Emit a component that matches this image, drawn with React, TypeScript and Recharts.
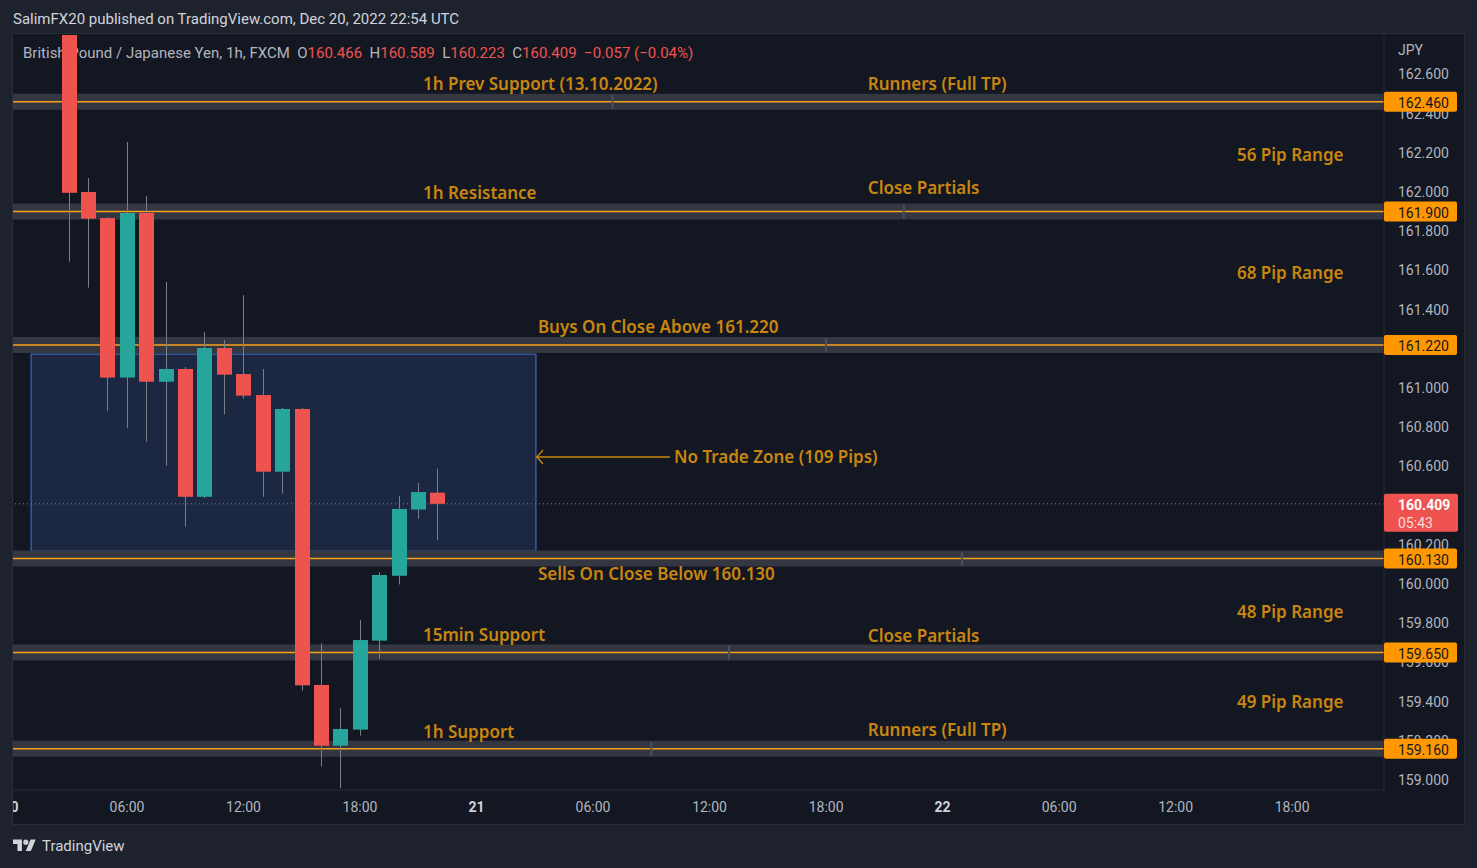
import {
  Bar,
  ComposedChart,
  ReferenceArea,
  ReferenceDot,
  ReferenceLine,
  XAxis,
  YAxis,
} from "recharts";

// GBPJPY 1h, hours counted from Dec 20 00:00
const HOURS = [3, 4, 5, 6, 7, 8, 9, 10, 11, 12, 13, 14, 15, 16, 17, 18, 19, 20, 21, 22];
const OPEN = [
  162.95, 162.0, 161.867, 161.053, 161.893, 161.032, 161.097, 160.445, 161.204, 161.071,
  160.964, 160.573, 160.893, 159.485, 159.175, 159.257, 159.711, 160.042, 160.38, 160.466,
];
const HIGH = [
  163.0, 162.071, 161.87, 162.255, 161.98, 161.541, 161.107, 161.286, 161.245, 161.474,
  161.097, 160.898, 160.898, 159.697, 159.367, 159.816, 160.06, 160.449, 160.515, 160.589,
];
const LOW = [
  161.644, 161.512, 160.884, 160.797, 160.726, 160.604, 160.292, 160.439, 160.866, 160.945,
  160.445, 160.461, 159.456, 159.068, 158.958, 159.226, 159.619, 159.998, 160.333, 160.223,
];
const CLOSE = [
  161.996, 161.864, 161.053, 161.893, 161.032, 161.097, 160.445, 161.204, 161.068, 160.961,
  160.573, 160.893, 159.483, 159.175, 159.26, 159.714, 160.046, 160.383, 160.469, 160.409,
];

const LAST_PRICE = 160.409;
const COUNTDOWN = "05:43";

// horizontal levels and the hour of their midpoint handle
const LEVELS = [162.46, 161.9, 161.22, 160.13, 159.65, 159.16];
const LEVEL_HANDLES = [31, 46, 42, 49, 37, 33];

// no trade zone box
const ZONE_HOURS = [1.06, 27.06];
const ZONE_PRICES = [160.168, 161.173];
const ARROW_HOURS = [27.06, 33.96];
const ARROW_PRICE = 160.648;

const NOTE_TEXT = [
  "1h Prev Support (13.10.2022)",
  "Runners (Full TP)",
  "56 Pip Range",
  "1h Resistance",
  "Close Partials",
  "68 Pip Range",
  "Buys On Close Above 161.220",
  "No Trade Zone (109 Pips)",
  "Sells On Close Below 160.130",
  "48 Pip Range",
  "15min Support",
  "Close Partials",
  "49 Pip Range",
  "1h Support",
  "Runners (Full TP)",
];
const NOTE_HOUR = [21.24, 44.15, 63.16, 21.24, 44.15, 63.16, 27.16, 34.17, 27.16, 63.16, 21.24, 44.15, 63.16, 21.24, 44.15];
const NOTE_PRICE = [
  162.556, 162.556, 162.189, 161.995, 162.025, 161.587, 161.316, 160.648, 160.056, 159.862,
  159.74, 159.735, 159.403, 159.245, 159.26,
];

const X_TICKS = [0, 6, 12, 18, 24, 30, 36, 42, 48, 54, 60, 66];
const X_LABELS = ["20", "06:00", "12:00", "18:00", "21", "06:00", "12:00", "18:00", "22", "06:00", "12:00", "18:00"];
const Y_TICKS = [
  159.0, 159.2, 159.4, 159.6, 159.8, 160.0, 160.2, 160.4, 160.6, 160.8, 161.0, 161.2, 161.4,
  161.6, 161.8, 162.0, 162.2, 162.4, 162.6,
];

const X_DOMAIN = [0.13, 70.73];
const Y_DOMAIN = [158.949, 162.801];

const RED = "#ef5350";
const GREEN = "#26a69a";
const ORANGE = "#ff9800";
const NOTE = "#c9860f";
const AXIS_TEXT = "#b2b5be";
const FONT = "Roboto, sans-serif";

const candles = HOURS.map((h, i) => ({
  h,
  open: OPEN[i],
  high: HIGH[i],
  low: LOW[i],
  close: CLOSE[i],
  range: [LOW[i], HIGH[i]],
}));

function Candle(props: any) {
  const { x, y, width, height, payload } = props;
  if (x == null || !payload) return null;
  const top = Math.min(y, y + height);
  const h = Math.abs(height);
  const { open, close, high, low } = payload;
  const k = h / (high - low);
  const yOf = (v: number) => top + (high - v) * k;
  const bodyTop = yOf(Math.max(open, close));
  const bodyH = Math.max(1, yOf(Math.min(open, close)) - bodyTop);
  const cx = Math.round(x + width / 2) + 0.5;
  return (
    <g>
      <line x1={cx} x2={cx} y1={top} y2={top + h} stroke="#7c7f89" strokeWidth={1} />
      <rect x={cx - 7.5} y={bodyTop} width={15} height={bodyH} fill={close >= open ? GREEN : RED} />
    </g>
  );
}

function TimeTick({ x, y, payload }: any) {
  const label = X_LABELS[X_TICKS.indexOf(payload.value)];
  const day = !label.includes(":");
  return (
    <text
      x={x}
      y={y + 9}
      textAnchor="middle"
      dominantBaseline="central"
      fill={day ? "#d1d4dc" : AXIS_TEXT}
      fontSize={14}
      fontWeight={day ? 700 : 400}
      fontFamily={FONT}
    >
      {label}
    </text>
  );
}

function PriceTag({ viewBox, price }: any) {
  if (!viewBox) return null;
  const x = viewBox.x + viewBox.width;
  return (
    <g>
      <rect x={x} y={viewBox.y - 10} width={73} height={20} rx={2} fill={ORANGE} />
      <text x={x + 14} y={viewBox.y + 1} dominantBaseline="central" fill="#131722" fontSize={14} fontFamily={FONT}>
        {price.toFixed(3)}
      </text>
    </g>
  );
}

function LastTag({ viewBox }: any) {
  if (!viewBox) return null;
  const x = viewBox.x + viewBox.width;
  return (
    <g>
      <rect x={x} y={viewBox.y - 10} width={74} height={38} rx={2} fill={RED} />
      <text x={x + 14} y={viewBox.y + 1} dominantBaseline="central" fill="#ffffff" fontSize={14} fontWeight={700} fontFamily={FONT}>
        {LAST_PRICE.toFixed(3)}
      </text>
      <text x={x + 14} y={viewBox.y + 19} dominantBaseline="central" fill="#fbdcdb" fontSize={14} fontFamily={FONT}>
        {COUNTDOWN}
      </text>
    </g>
  );
}

function NoteText({ cx, cy, text }: any) {
  return (
    <text x={cx} y={cy} dominantBaseline="central" fill={NOTE} fontSize={17} fontWeight={600} fontFamily="'Noto Sans', sans-serif">
      {text}
    </text>
  );
}

function ArrowHead({ cx, cy }: any) {
  return <path d={`M${cx + 7} ${cy - 7} L${cx + 1} ${cy} L${cx + 7} ${cy + 7}`} stroke={NOTE} strokeWidth={1.3} fill="none" />;
}

function TvLogo() {
  return (
    <svg width={23} height={18} viewBox="0 0 36 28" style={{ display: "block" }}>
      <path d="M14 22H7V11H0V4h14v18zM28 22h-8l7.5-18h8L28 22z" fill="#d1d4dc" />
      <circle cx={20} cy={8} r={4} fill="#d1d4dc" />
    </svg>
  );
}

export default function App() {
  return (
    <div
      style={{
        position: "absolute",
        left: 0,
        top: 0,
        width: 1477,
        height: 868,
        background: "#1e222d",
        fontFamily: FONT,
        overflow: "hidden",
      }}
    >
      <div style={{ position: "absolute", left: 13, top: 10, fontSize: 15, color: "#d1d4dc", whiteSpace: "nowrap" }}>
        SalimFX20 published on TradingView.com, Dec 20, 2022 22:54 UTC
      </div>

      <div
        style={{
          position: "absolute",
          left: 12,
          top: 33,
          width: 1451,
          height: 790,
          background: "#131722",
          border: "1px solid #2a2e39",
          overflow: "hidden",
        }}
      >
        {/* legend sits under the chart svg, the first candle covers part of it */}
        <div style={{ position: "absolute", left: 10, top: 10, fontSize: 15, color: AXIS_TEXT, whiteSpace: "nowrap" }}>
          British Pound / Japanese Yen, 1h, FXCM&nbsp;&nbsp;O<span style={{ color: RED }}>160.466</span>&nbsp;&nbsp;H
          <span style={{ color: RED }}>160.589</span>&nbsp;&nbsp;L<span style={{ color: RED }}>160.223</span>&nbsp;&nbsp;C
          <span style={{ color: RED }}>160.409</span>&nbsp;&nbsp;<span style={{ color: RED }}>−0.057 (−0.04%)</span>
        </div>
        <div style={{ position: "absolute", left: 1385, top: 8, fontSize: 14, color: AXIS_TEXT }}>JPY</div>

        <div style={{ position: "absolute", left: 0, top: 0 }}>
          <ComposedChart
            width={1450}
            height={789}
            data={candles}
            margin={{ top: 1, right: 0, bottom: 0, left: 0 }}
          >
            <XAxis
              dataKey="h"
              type="number"
              domain={X_DOMAIN}
              allowDataOverflow
              ticks={X_TICKS}
              interval={0}
              tick={<TimeTick />}
              tickLine={false}
              axisLine={{ stroke: "#2a2e39" }}
              height={33}
            />
            <YAxis
              orientation="right"
              type="number"
              domain={Y_DOMAIN}
              allowDataOverflow
              ticks={Y_TICKS}
              interval={0}
              width={79}
              tickLine={false}
              tickSize={6}
              tickMargin={8}
              axisLine={{ stroke: "#2a2e39" }}
              tickFormatter={(v: number) => v.toFixed(3)}
              tick={{ fill: AXIS_TEXT, fontSize: 14, fontFamily: FONT }}
            />

            <ReferenceArea
              x1={ZONE_HOURS[0]}
              x2={ZONE_HOURS[1]}
              y1={ZONE_PRICES[0]}
              y2={ZONE_PRICES[1]}
              fill="#1c2742"
              fillOpacity={1}
              stroke="#4677d6"
              strokeWidth={1}
            />

            {LEVELS.map((p) => (
              <ReferenceLine key={`band-${p}`} y={p} stroke="#343741" strokeWidth={16} zIndex={120} />
            ))}
            {LEVELS.map((p) => (
              <ReferenceLine key={`line-${p}`} y={p} stroke="#f7a21b" strokeWidth={1.5} zIndex={150} />
            ))}
            {LEVELS.map((p, i) => (
              <ReferenceLine
                key={`handle-${p}`}
                segment={[
                  { x: LEVEL_HANDLES[i], y: p - 0.035 },
                  { x: LEVEL_HANDLES[i], y: p + 0.035 },
                ]}
                stroke="#4b505c"
                strokeWidth={2}
                zIndex={160}
              />
            ))}

            <ReferenceLine
              segment={[
                { x: ARROW_HOURS[0], y: ARROW_PRICE },
                { x: ARROW_HOURS[1], y: ARROW_PRICE },
              ]}
              stroke={NOTE}
              strokeWidth={1.3}
            />
            <ReferenceDot x={ARROW_HOURS[0]} y={ARROW_PRICE} r={0} shape={<ArrowHead />} />

            {NOTE_TEXT.map((t, i) => (
              <ReferenceDot key={`note-${i}`} x={NOTE_HOUR[i]} y={NOTE_PRICE[i]} r={0} shape={<NoteText text={t} />} />
            ))}

            <Bar dataKey="range" barSize={15} shape={<Candle />} isAnimationActive={false} />

            <ReferenceLine y={LAST_PRICE} stroke={RED} strokeWidth={1} strokeDasharray="1 3" />

            {LEVELS.map((p) => (
              <ReferenceLine
                key={`tag-${p}`}
                y={p}
                stroke="none"
                zIndex={2600}
                label={<PriceTag price={p} />}
              />
            ))}
            <ReferenceLine y={LAST_PRICE} stroke="none" zIndex={2600} label={<LastTag />} />
          </ComposedChart>
        </div>
      </div>

      <div style={{ position: "absolute", left: 13, top: 837, display: "flex", alignItems: "center", gap: 6 }}>
        <TvLogo />
        <span style={{ fontSize: 15, color: "#d1d4dc" }}>TradingView</span>
      </div>
    </div>
  );
}
